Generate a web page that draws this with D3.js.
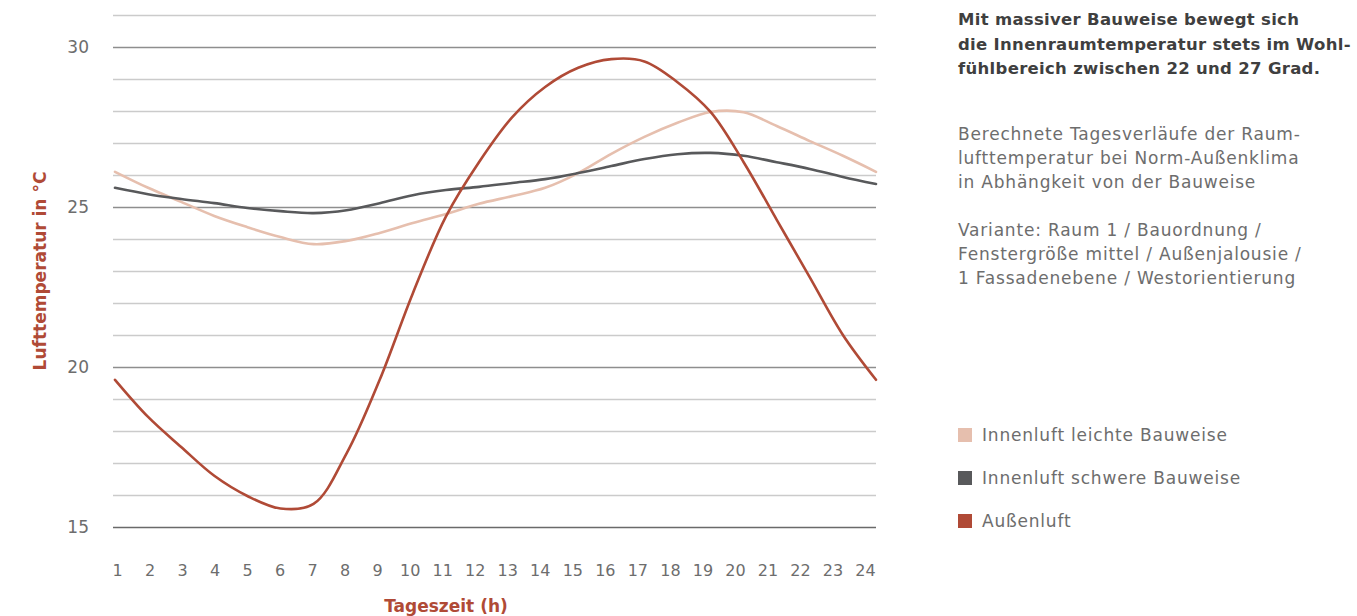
<!DOCTYPE html>
<html>
<head>
<meta charset="utf-8">
<script src="https://cdn.jsdelivr.net/npm/d3@7"></script>
<style>
  body { margin: 0; background: #fff; }
  svg text { font-family: "DejaVu Sans", sans-serif; }
</style>
</head>
<body>
<div id="chart"></div>
<script>
var hours = d3.range(1, 25),
    hourLabels = hours.map(String),
    leicht = [26.1, 25.6, 25.16, 24.72, 24.37, 24.06, 23.84, 23.94, 24.19, 24.5, 24.78, 25.1,
              25.34, 25.6, 26.06, 26.66, 27.19, 27.63, 27.97, 27.96, 27.53, 27.06, 26.6, 26.1],
    schwer = [25.6, 25.4, 25.25, 25.12, 24.97, 24.87, 24.81, 24.9, 25.12, 25.37, 25.53, 25.63,
              25.75, 25.87, 26.06, 26.28, 26.5, 26.65, 26.69, 26.6, 26.4, 26.19, 25.94, 25.72],
    aussen = [19.6, 18.44, 17.5, 16.6, 15.97, 15.58, 15.72, 17.3, 19.6, 22.3, 24.7, 26.4,
              27.8, 28.75, 29.35, 29.62, 29.55, 28.9, 27.97, 26.4, 24.6, 22.8, 21.0, 19.6],
    yTicks = [15, 20, 25, 30],
    seriesNames = ["Innenluft leichte Bauweise", "Innenluft schwere Bauweise", "Außenluft"],
    seriesColors = ["#e6bfae", "#58595b", "#b04a36"],
    introText = ["Mit massiver Bauweise bewegt sich",
                 "die Innenraumtemperatur stets im Wohl-",
                 "fühlbereich zwischen 22 und 27 Grad."],
    noteText = ["Berechnete Tagesverläufe der Raum-",
                "lufttemperatur bei Norm-Außenklima",
                "in Abhängkeit von der Bauweise",
                "",
                "Variante: Raum 1 / Bauordnung /",
                "Fenstergröße mittel / Außenjalousie /",
                "1 Fassadenebene / Westorientierung"];

var width = 1357, height = 616;

var x = d3.scaleLinear().domain([1, 24]).range([115, 876]),
    xLab = d3.scalePoint().domain(hourLabels).range([117, 865]),
    y = d3.scaleLinear().domain([15, 31]).range([527, 15]);

var svg = d3.select("#chart").append("svg")
    .attr("width", width)
    .attr("height", height);

// horizontal grid, one line per degree
svg.append("g")
    .selectAll("line")
    .data(d3.range(15, 32))
  .enter().append("line")
    .attr("x1", 113)
    .attr("x2", 876)
    .attr("y1", function(d) { return y(d) + 0.5; })
    .attr("y2", function(d) { return y(d) + 0.5; })
    .attr("stroke", function(d) { return d === 15 ? "#6a6a6a" : (d % 5 === 0 ? "#8e8e8e" : "#cbcbcb"); })
    .attr("stroke-width", 1.3);

// y tick labels
svg.append("g")
    .selectAll("text")
    .data(yTicks)
  .enter().append("text")
    .attr("x", 89)
    .attr("y", function(d) { return y(d); })
    .attr("dy", "0.35em")
    .attr("text-anchor", "end")
    .attr("fill", "#6d6d6d")
    .attr("font-size", 17)
    .text(function(d) { return d; });

// x axis labels
var xAxis = d3.axisBottom(xLab).tickSize(0).tickPadding(0);
var gx = svg.append("g")
    .attr("transform", "translate(0,565)")
    .call(xAxis);
gx.select(".domain").remove();
gx.selectAll("text")
    .attr("fill", "#6d6d6d")
    .attr("font-size", 16)
    .attr("font-family", "DejaVu Sans, sans-serif");

// series lines
var line = d3.line()
    .x(function(d, i) { return x(hours[i]); })
    .y(function(d) { return y(d); })
    .curve(d3.curveCatmullRom.alpha(0.5));

[leicht, schwer, aussen].forEach(function(values, i) {
  svg.append("path")
      .datum(values)
      .attr("fill", "none")
      .attr("stroke", seriesColors[i])
      .attr("stroke-width", 2.6)
      .attr("stroke-linecap", "round")
      .attr("d", line);
});

// axis titles
svg.append("text")
    .attr("transform", "translate(46,271) rotate(-90)")
    .attr("text-anchor", "middle")
    .attr("fill", "#b04a36")
    .attr("font-size", 17)
    .attr("font-weight", "bold")
    .text("Lufttemperatur in °C");

svg.append("text")
    .attr("x", 446)
    .attr("y", 612)
    .attr("text-anchor", "middle")
    .attr("fill", "#b04a36")
    .attr("font-size", 17)
    .attr("font-weight", "bold")
    .text("Tageszeit (h)");

// right hand text
svg.append("g")
    .selectAll("text")
    .data(introText)
  .enter().append("text")
    .attr("x", 958)
    .attr("y", function(d, i) { return 25 + i * 24.5; })
    .attr("fill", "#3f3f3f")
    .attr("font-size", 16.5)
    .attr("font-weight", 600)
    .attr("letter-spacing", 0.3)
    .text(function(d) { return d; });

svg.append("g")
    .selectAll("text")
    .data(noteText)
  .enter().append("text")
    .attr("x", 958)
    .attr("y", function(d, i) { return 140 + i * 24; })
    .attr("fill", "#6d6d6d")
    .attr("font-size", 17)
    .attr("letter-spacing", 0.8)
    .text(function(d) { return d; });

// legend
var legend = svg.append("g")
    .selectAll("g")
    .data(seriesNames)
  .enter().append("g")
    .attr("transform", function(d, i) { return "translate(958," + (435 + i * 43) + ")"; });

legend.append("rect")
    .attr("x", 0)
    .attr("y", -7)
    .attr("width", 14)
    .attr("height", 14)
    .attr("fill", function(d, i) { return seriesColors[i]; });

legend.append("text")
    .attr("x", 24)
    .attr("dy", "0.35em")
    .attr("fill", "#6d6d6d")
    .attr("font-size", 17)
    .attr("letter-spacing", 0.8)
    .text(function(d) { return d; });
</script>
</body>
</html>
